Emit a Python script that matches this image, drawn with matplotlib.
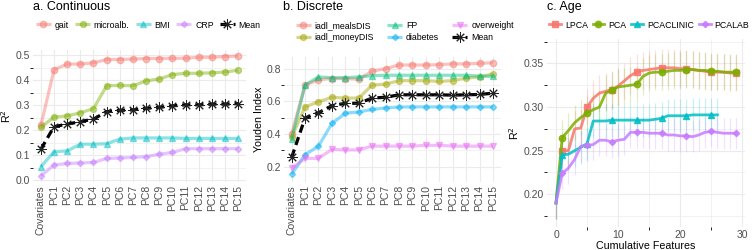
import matplotlib
matplotlib.use("Agg")
import matplotlib.pyplot as plt
from matplotlib.ticker import FixedLocator
import numpy as np

W, H = 755, 250
plt.rcParams['font.family'] = ['Liberation Sans', 'DejaVu Sans']

# ---------------- data ----------------
categories = ['Covariates', 'PC1', 'PC2', 'PC3', 'PC4', 'PC5', 'PC6', 'PC7', 'PC8',
              'PC9', 'PC10', 'PC11', 'PC12', 'PC13', 'PC14', 'PC15']

# panel a (R^2)
gait = [0.220, 0.442, 0.465, 0.465, 0.470, 0.483, 0.483, 0.485, 0.487, 0.487, 0.488, 0.488, 0.492, 0.492, 0.495, 0.497]
microalb = [0.213, 0.253, 0.258, 0.270, 0.287, 0.378, 0.380, 0.378, 0.398, 0.405, 0.423, 0.428, 0.428, 0.430, 0.433, 0.440]
bmi = [0.055, 0.115, 0.118, 0.145, 0.145, 0.147, 0.165, 0.170, 0.170, 0.170, 0.170, 0.168, 0.168, 0.168, 0.168, 0.168]
crp = [0.018, 0.062, 0.068, 0.070, 0.072, 0.088, 0.090, 0.092, 0.095, 0.105, 0.112, 0.127, 0.127, 0.127, 0.127, 0.127]
mean_a = [0.125, 0.215, 0.225, 0.235, 0.245, 0.275, 0.280, 0.282, 0.288, 0.292, 0.298, 0.302, 0.302, 0.305, 0.305, 0.307]

# panel b (Youden index)
meals = [0.400, 0.700, 0.732, 0.740, 0.740, 0.735, 0.785, 0.800, 0.823, 0.823, 0.823, 0.825, 0.830, 0.830, 0.833, 0.837]
money = [0.380, 0.566, 0.597, 0.625, 0.620, 0.620, 0.700, 0.705, 0.727, 0.727, 0.727, 0.722, 0.727, 0.742, 0.750, 0.768]
fp = [0.370, 0.700, 0.750, 0.745, 0.745, 0.750, 0.757, 0.760, 0.760, 0.760, 0.760, 0.760, 0.760, 0.760, 0.755, 0.753]
diabetes = [0.152, 0.273, 0.325, 0.464, 0.527, 0.535, 0.550, 0.560, 0.565, 0.566, 0.566, 0.566, 0.566, 0.566, 0.566, 0.566]
overweight = [0.190, 0.250, 0.250, 0.305, 0.302, 0.302, 0.325, 0.325, 0.325, 0.325, 0.330, 0.330, 0.325, 0.325, 0.325, 0.325]
mean_b = [0.256, 0.498, 0.530, 0.573, 0.588, 0.588, 0.620, 0.625, 0.640, 0.640, 0.640, 0.640, 0.638, 0.640, 0.642, 0.650]

# panel c (Age, R^2 vs cumulative features)
lpca_x = list(range(0, 30))
lpca = [0.190, 0.250, 0.250, 0.275, 0.276, 0.300, 0.310, 0.316, 0.318, 0.320, 0.324, 0.330, 0.336, 0.340, 0.342,
        0.343, 0.344, 0.345, 0.345, 0.345, 0.344, 0.344, 0.343, 0.342, 0.341, 0.340, 0.340, 0.340, 0.339, 0.339]
lpca_err = [0.018, 0.020, 0.020, 0.021, 0.021, 0.021, 0.021, 0.021, 0.021, 0.021, 0.021, 0.021, 0.021, 0.021, 0.021,
            0.021, 0.021, 0.021, 0.021, 0.021, 0.021, 0.021, 0.021, 0.021, 0.021, 0.021, 0.021, 0.021, 0.021, 0.021]
pca_x = list(range(0, 30))
pca = [0.190, 0.265, 0.273, 0.282, 0.288, 0.293, 0.297, 0.300, 0.316, 0.319, 0.323, 0.324, 0.325, 0.326, 0.335,
       0.339, 0.340, 0.340, 0.341, 0.342, 0.342, 0.343, 0.343, 0.342, 0.342, 0.341, 0.341, 0.340, 0.340, 0.340]
pca_err = [0.018, 0.020, 0.020, 0.020, 0.020, 0.020, 0.020, 0.020, 0.021, 0.021, 0.021, 0.021, 0.021, 0.021, 0.021,
           0.021, 0.021, 0.021, 0.021, 0.021, 0.021, 0.021, 0.021, 0.021, 0.021, 0.021, 0.021, 0.021, 0.021, 0.021]
clin_x = list(range(0, 27))
clin = [0.190, 0.245, 0.246, 0.250, 0.254, 0.258, 0.284, 0.284, 0.284, 0.285, 0.285, 0.285, 0.285, 0.285,
        0.285, 0.285, 0.286, 0.287, 0.290, 0.290, 0.290, 0.290, 0.291, 0.291, 0.291, 0.291, 0.291]
clin_err = [0.018, 0.019, 0.019, 0.019, 0.019, 0.019, 0.019, 0.019, 0.019, 0.019, 0.019, 0.019, 0.019, 0.019,
            0.019, 0.019, 0.019, 0.019, 0.019, 0.019, 0.019, 0.019, 0.019, 0.019, 0.019, 0.019, 0.019]
lab_x = list(range(0, 30))
lab = [0.190, 0.224, 0.230, 0.240, 0.255, 0.256, 0.257, 0.262, 0.262, 0.260, 0.262, 0.263, 0.271, 0.271, 0.271,
       0.270, 0.270, 0.270, 0.268, 0.268, 0.267, 0.267, 0.266, 0.268, 0.271, 0.272, 0.271, 0.270, 0.270, 0.270]
lab_err = [0.018, 0.018, 0.018, 0.018, 0.018, 0.018, 0.018, 0.018, 0.018, 0.018, 0.018, 0.018, 0.018, 0.018, 0.018,
           0.018, 0.018, 0.018, 0.018, 0.018, 0.018, 0.018, 0.018, 0.018, 0.018, 0.018, 0.018, 0.018, 0.018, 0.018]

# ---------------- styling ----------------
fig = plt.figure(figsize=(W / 100, H / 100), dpi=100)
fig.patch.set_facecolor('white')

GRID = '#EBEBEB'
TXT = '#4D4D4D'
TICK_FS = 7.5
LEG_FS = 6.3
TITLE_FS = 9.0
LAB_FS = 7.7
AST = (8, 2, 0)


def pax(x0, y0, x1, y1):
    return fig.add_axes([x0 / W, 1 - y1 / H, (x1 - x0) / W, (y1 - y0) / H])


def style(ax):
    for s in ax.spines.values():
        s.set_visible(False)
    ax.set_facecolor('white')
    ax.tick_params(length=0, labelsize=TICK_FS, labelcolor=TXT, pad=2)
    ax.grid(True, which='major', color=GRID, lw=0.8)
    ax.grid(True, which='minor', color=GRID, lw=0.45)
    ax.set_axisbelow(True)


def series(ax, x, y, color, marker, ms, label, alpha=0.45):
    ax.plot(x, y, color=color, lw=2.3, alpha=alpha, solid_capstyle='butt',
            marker=marker, ms=ms, mec=color, mfc=color, label=label)


def mean_series(ax, x, y, label='Mean'):
    ax.plot(x, y, color='black', lw=2.3, ls=(0, (2.6, 1.5)), marker=AST, ms=7.5,
            mec='#222222', mew=0.7, label=label)


def legend(ax, x, y, ncol, colsp, hl=1.7):
    ax.legend(loc='center left', bbox_to_anchor=(x / W, 1 - y / H), bbox_transform=fig.transFigure,
              ncol=ncol, frameon=False, fontsize=LEG_FS, handlelength=hl, handletextpad=0.45,
              columnspacing=colsp, labelspacing=0.3, borderaxespad=0, borderpad=0)


# ---------------- panel a ----------------
xa = np.arange(len(categories))
axa = pax(33, 50, 246, 182)
style(axa)
series(axa, xa, gait, '#F8766D', 'o', 4.6, 'gait')
series(axa, xa, microalb, '#7CAE00', 'o', 4.3, 'microalb.')
series(axa, xa, bmi, '#00BFC4', '^', 4.6, 'BMI')
series(axa, xa, crp, '#C77CFF', 'D', 3.2, 'CRP')
mean_series(axa, xa, mean_a)
axa.set_xlim(-0.6, len(categories) - 0.4)
axa.set_ylim(-0.006, 0.521)
axa.set_xticks(xa)
axa.set_xticklabels(categories, rotation=90, va='top', ha='center')
axa.yaxis.set_major_locator(FixedLocator([0.0, 0.1, 0.2, 0.3, 0.4, 0.5]))
axa.yaxis.set_minor_locator(FixedLocator([0.05, 0.15, 0.25, 0.35, 0.45]))
axa.set_yticklabels(['0.0', '0.1', '0.2', '0.3', '0.4', '0.5'])
axa.set_ylabel('R$^2$', fontsize=LAB_FS, labelpad=2)
legend(axa, 36, 25, 5, 0.7)
fig.text(33 / W, 1 - 7 / H, 'a. Continuous', fontsize=TITLE_FS, va='center', ha='left', color='black')

# ---------------- panel b ----------------
axb = pax(283.6, 57, 501, 182)
style(axb)
series(axb, xa, meals, '#F8766D', 'o', 4.6, 'iadl_mealsDIS')
series(axb, xa, money, '#A3A500', 'o', 4.3, 'iadl_moneyDIS')
series(axb, xa, fp, '#00BF7D', '^', 4.6, 'FP')
series(axb, xa, diabetes, '#00B0F6', 'D', 3.2, 'diabetes')
series(axb, xa, overweight, '#E76BF3', 'v', 4.6, 'overweight')
mean_series(axb, xa, mean_b)
axb.set_xlim(-0.6, len(categories) - 0.4)
axb.set_ylim(0.105, 0.872)
axb.set_xticks(xa)
axb.set_xticklabels(categories, rotation=90, va='top', ha='center')
axb.yaxis.set_major_locator(FixedLocator([0.2, 0.4, 0.6, 0.8]))
axb.yaxis.set_minor_locator(FixedLocator([0.3, 0.5, 0.7]))
axb.set_yticklabels(['0.2', '0.4', '0.6', '0.8'])
axb.set_ylabel('Youden Index', fontsize=LAB_FS, labelpad=2)
legend(axb, 296, 31.5, 3, 1.5)
fig.text(283 / W, 1 - 7 / H, 'b. Discrete', fontsize=TITLE_FS, va='center', ha='left', color='black')

# ---------------- panel c ----------------
axc = pax(547, 39, 745, 227)
style(axc)
c_series = [
    (lpca_x, lpca, lpca_err, '#F8766D', 's', 4.4, 'LPCA'),
    (pca_x, pca, pca_err, '#7CAE00', 'o', 4.6, 'PCA'),
    (clin_x, clin, clin_err, '#00BFC4', '^', 4.8, 'PCACLINIC'),
    (lab_x, lab, lab_err, '#C77CFF', 'D', 3.2, 'PCALAB'),
]
for x, y, e, col, mk, ms, lab_name in c_series:
    x = np.asarray(x)
    y = np.asarray(y)
    e = np.asarray(e)
    axc.vlines(x, y - e, y + e, color=col, alpha=0.22, lw=0.9)
for x, y, e, col, mk, ms, lab_name in c_series:
    axc.plot(x, y, color=col, lw=2.0, alpha=0.85, marker=mk, ms=ms, markevery=slice(1, None, 4),
             mec=col, mfc=col, label=lab_name)
axc.set_xlim(-1.45, 30.45)
axc.set_ylim(0.1625, 0.378)
axc.xaxis.set_major_locator(FixedLocator([0, 10, 20, 30]))
axc.xaxis.set_minor_locator(FixedLocator([5, 15, 25]))
axc.yaxis.set_major_locator(FixedLocator([0.20, 0.25, 0.30, 0.35]))
axc.yaxis.set_minor_locator(FixedLocator([0.175, 0.225, 0.275, 0.325, 0.375]))
axc.set_yticklabels(['0.20', '0.25', '0.30', '0.35'])
axc.set_xlabel('Cumulative Features', fontsize=LAB_FS, labelpad=1)
axc.set_ylabel('R$^2$', fontsize=LAB_FS, labelpad=2)
legend(axc, 549, 25, 4, 0.55, hl=1.35)
fig.text(547 / W, 1 - 7 / H, 'c. Age', fontsize=TITLE_FS, va='center', ha='left', color='black')

fig.savefig('out.png', dpi=100, facecolor='white')
